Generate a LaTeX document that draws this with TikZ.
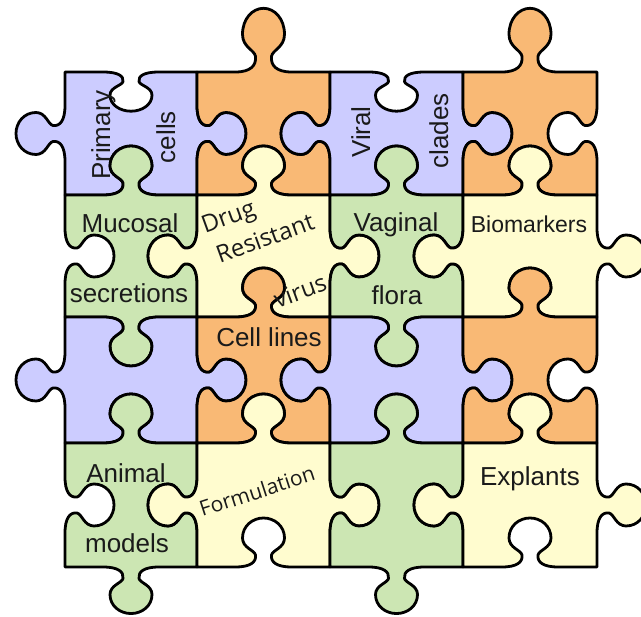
\documentclass[tikz,border=0pt]{standalone}
\usepackage{fontspec}
\setmainfont{Liberation Sans}
\newfontfamily\humfont{Open Sans}
\definecolor{pur}{HTML}{CCCCFF}
\definecolor{ora}{HTML}{F9B975}
\definecolor{grn}{HTML}{CCE6B3}
\definecolor{yel}{HTML}{FFFCCF}
\definecolor{txt}{HTML}{1A1A1A}
% horizontal edge knob: #1 centre x, #2 edge y, #3 direction (+1 L->R), #4 bulge (+ down)
\newcommand\hknob[4]{-- ({#1-(#3)*28},{#2})
 .. controls ({#1-(#3)*13},{#2}) and ({#1-(#3)*7},{#2+(#4)*5}) .. ({#1-(#3)*8},{#2+(#4)*12})
 .. controls ({#1-(#3)*9},{#2+(#4)*17}) and ({#1-(#3)*21},{#2+(#4)*19}) .. ({#1-(#3)*21},{#2+(#4)*29})
 .. controls ({#1-(#3)*21},{#2+(#4)*41}) and ({#1-(#3)*11},{#2+(#4)*49}) .. ({#1},{#2+(#4)*49})
 .. controls ({#1+(#3)*11},{#2+(#4)*49}) and ({#1+(#3)*21},{#2+(#4)*41}) .. ({#1+(#3)*21},{#2+(#4)*29})
 .. controls ({#1+(#3)*21},{#2+(#4)*19}) and ({#1+(#3)*9},{#2+(#4)*17}) .. ({#1+(#3)*8},{#2+(#4)*12})
 .. controls ({#1+(#3)*7},{#2+(#4)*5}) and ({#1+(#3)*13},{#2}) .. ({#1+(#3)*28},{#2})}
% vertical edge knob: #1 centre y, #2 edge x, #3 direction (+1 downwards), #4 bulge (+ right)
\newcommand\vknob[4]{-- ({#2},{#1-(#3)*28})
 .. controls ({#2},{#1-(#3)*13}) and ({#2+(#4)*5},{#1-(#3)*7}) .. ({#2+(#4)*12},{#1-(#3)*8})
 .. controls ({#2+(#4)*17},{#1-(#3)*9}) and ({#2+(#4)*19},{#1-(#3)*21}) .. ({#2+(#4)*29},{#1-(#3)*21})
 .. controls ({#2+(#4)*41},{#1-(#3)*21}) and ({#2+(#4)*49},{#1-(#3)*11}) .. ({#2+(#4)*49},{#1})
 .. controls ({#2+(#4)*49},{#1+(#3)*11}) and ({#2+(#4)*41},{#1+(#3)*21}) .. ({#2+(#4)*29},{#1+(#3)*21})
 .. controls ({#2+(#4)*19},{#1+(#3)*21}) and ({#2+(#4)*17},{#1+(#3)*9}) .. ({#2+(#4)*12},{#1+(#3)*8})
 .. controls ({#2+(#4)*5},{#1+(#3)*7}) and ({#2},{#1+(#3)*13}) .. ({#2},{#1+(#3)*28})}
\begin{document}
\begin{tikzpicture}[x=1pt,y=-1pt,
  piece/.style={draw=black, line width=2.8pt, line join=round},
  lab/.style={font=\fontsize{26}{30}\selectfont, inner sep=0pt, text=txt},
  hlab/.style={font=\humfont\fontsize{24}{28}\selectfont, inner sep=0pt, text=txt}]
\useasboundingbox (0,0) rectangle (641,617);
\clip (0,0) rectangle (641,617);
\foreach \xa/\xb/\ya/\yb/\col/\st/\sr/\sb/\sl in {
  65/197/72/195/pur/0.8/1/-1/-1,
  197/330/72/195/ora/-1.3/-1/-1/1,
  330/463/72/195/pur/0.8/1/-1/-1,
  463/597/72/195/ora/-1.3/-1/-1/1,
  65/197/195/317/grn/-1/-1/1/1,
  197/330/195/317/yel/-1/1/-1/-1,
  330/463/195/317/grn/-1/-1/1/1,
  463/597/195/317/yel/-1/1/-1/-1,
  65/197/317/443/pur/1/1/-1/-1,
  197/330/317/443/ora/-1/-1/-1/1,
  330/463/317/443/pur/1/1/-1/-1,
  463/597/317/443/ora/-1/-1/-1/1,
  65/197/443/567/grn/-1/-1/0.95/1,
  197/330/443/567/yel/-1/1/-1/-1,
  330/463/443/567/grn/-1/-1/0.95/1,
  463/597/443/567/yel/-1/1/-1/-1}{
  \pgfmathsetmacro\cx{(\xa+\xb)/2}
  \pgfmathsetmacro\cy{(\ya+\yb)/2}
  \path[piece, fill=\col] (\xa,\ya) \hknob{\cx}{\ya}{1}{\st} -- (\xb,\ya)
     \vknob{\cy}{\xb}{1}{\sr} -- (\xb,\yb)
     \hknob{\cx}{\yb}{-1}{\sb} -- (\xa,\yb)
     \vknob{\cy}{\xa}{-1}{\sl} -- cycle;
}
\node[lab, rotate=90, anchor=base] (primary) at (110,135) {Primary};
\node[lab, rotate=90, anchor=base] (cells) at (175,137) {cells};
\node[lab, rotate=90, anchor=base] (viral) at (370,132) {Viral};
\node[lab, rotate=90, anchor=base] (clades) at (448,131) {clades};
\node[lab, anchor=base] (mucosal) at (130,233) {Mucosal};
\node[lab, anchor=base] (secretions) at (129,303) {secretions};
\node[hlab, rotate=20] (drug) at (229,219) {Drug};
\node[hlab, rotate=20] (resistant) at (265,238) {Resistant};
\node[hlab, rotate=20] (virus) at (300,291) {virus};
\node[lab, anchor=base] (vaginal) at (396,232) {Vaginal};
\node[lab, anchor=base] (flora) at (397,305) {flora};
\node[lab, anchor=base, font=\fontsize{23}{27}\selectfont] (biomarkers) at (529,233) {Biomarkers};
\node[lab, anchor=base] (celllines) at (269,347) {Cell lines};
\node[lab, anchor=base] (animal) at (126,483) {Animal};
\node[lab, anchor=base] (models) at (127,553) {models};
\node[hlab, rotate=18, font=\humfont\fontsize{21}{25}\selectfont] (formulation) at (257,491) {Formulation};
\node[lab, anchor=base] (explants) at (530,486) {Explants};
\end{tikzpicture}
\end{document}
